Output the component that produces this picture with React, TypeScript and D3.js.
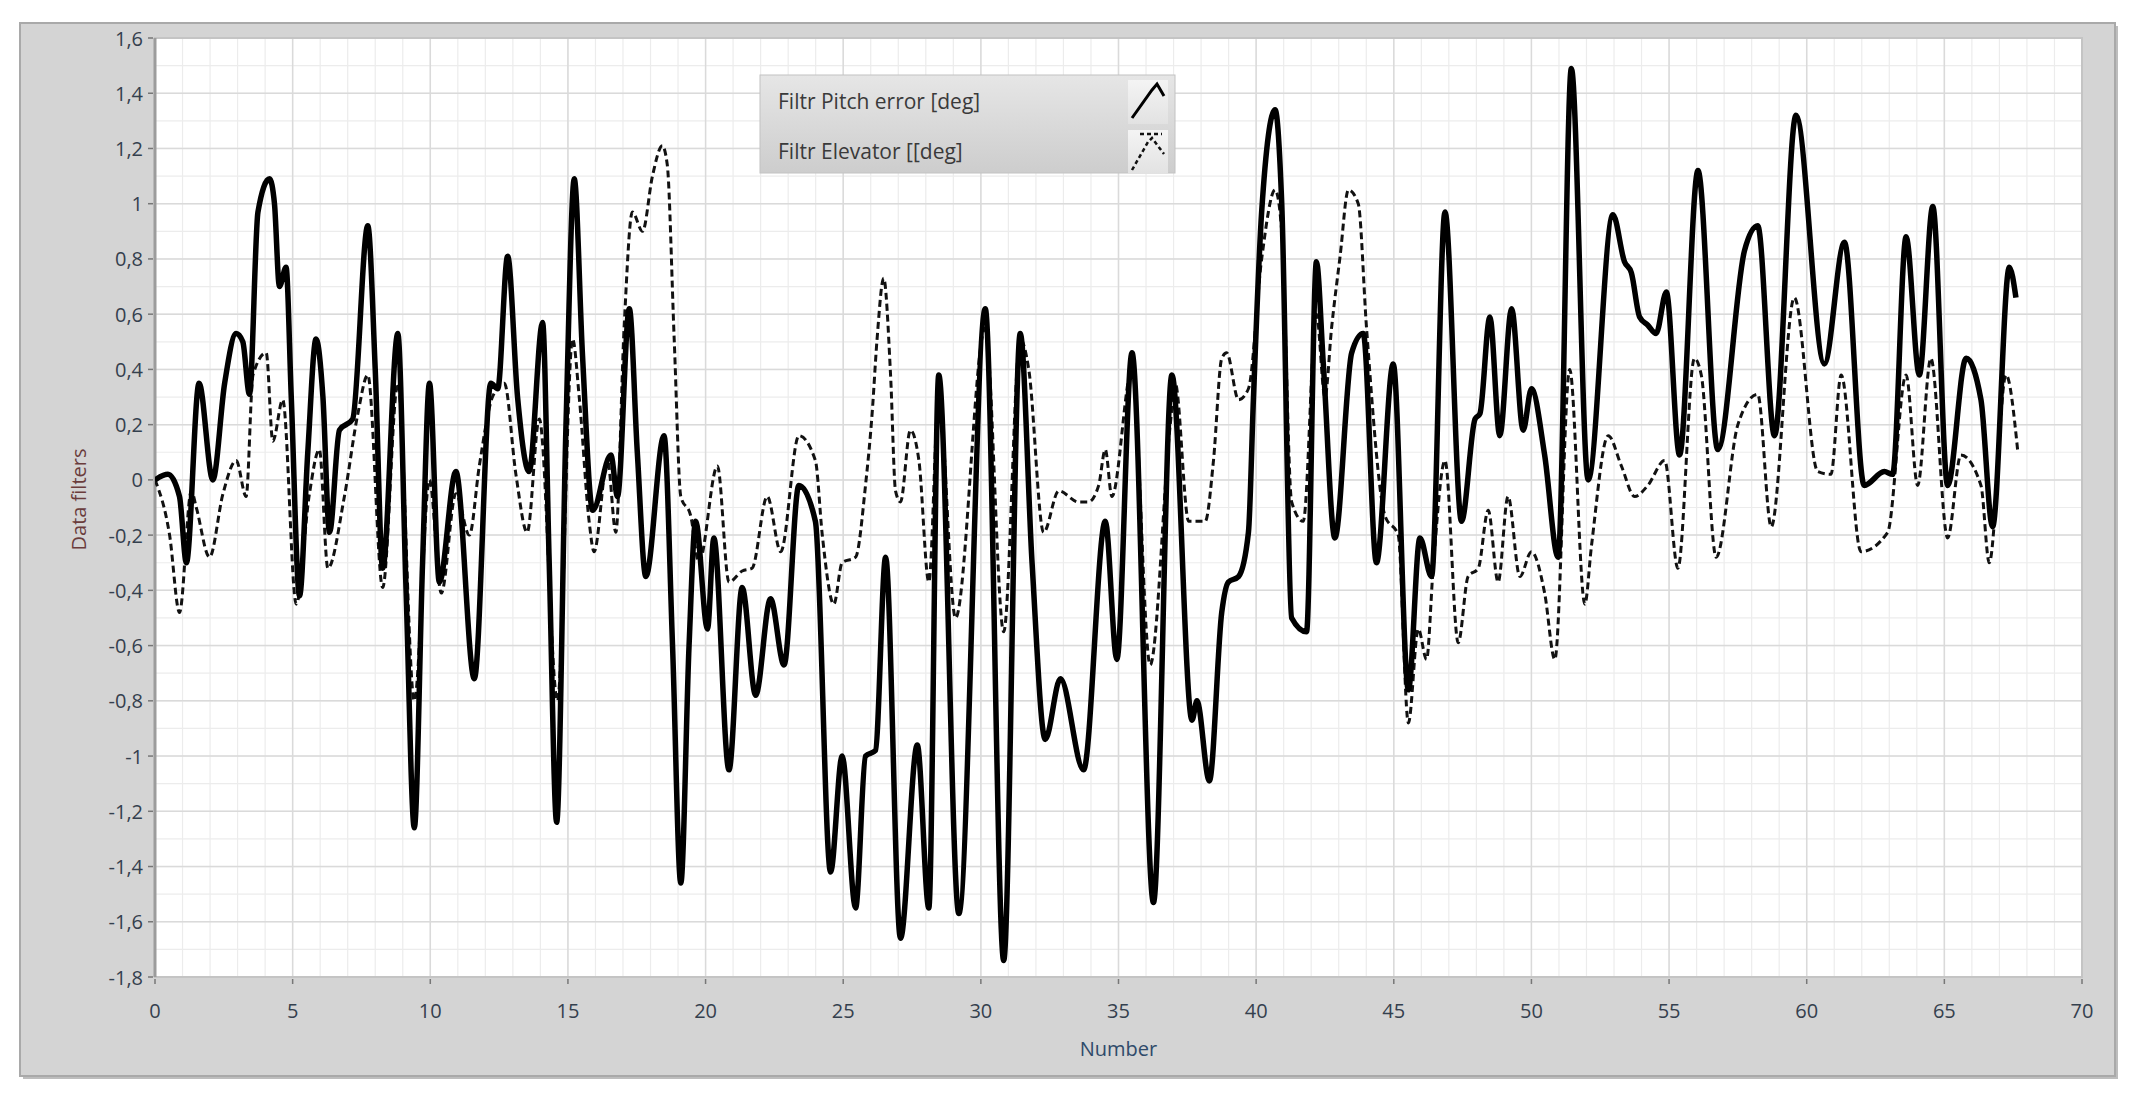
import React from "react";
import * as d3 from "d3";

// Filtr Pitch error [deg] (solid) : [Number, value]
const pitchErrorPoints: [number, number][] = [
  [0, 0.0], [0.47, 0.02], [0.89, -0.06], [1.14, -0.3], [1.6, 0.35], [2.1, 0.0], [2.53, 0.35],
  [2.95, 0.53], [3.19, 0.5], [3.43, 0.31], [3.74, 0.97], [4.16, 1.09], [4.34, 1.0], [4.52, 0.7],
  [4.76, 0.77], [4.95, 0.3], [5.25, -0.42], [5.55, 0.1], [5.85, 0.51], [6.1, 0.3], [6.34, -0.19],
  [6.7, 0.18], [7.18, 0.22], [7.73, 0.92], [8.0, 0.4], [8.27, -0.32], [8.82, 0.53], [9.12, -0.4],
  [9.42, -1.26], [9.72, -0.3], [9.97, 0.35], [10.33, -0.37], [10.93, 0.03], [11.6, -0.72],
  [12.2, 0.35], [12.45, 0.33], [12.81, 0.81], [13.17, 0.3], [13.59, 0.03], [14.08, 0.57],
  [14.32, -0.3], [14.59, -1.24], [14.93, 0.2], [15.23, 1.09], [15.53, 0.45], [15.9, -0.11],
  [16.56, 0.09], [16.8, -0.06], [17.23, 0.62], [17.52, 0.1], [17.83, -0.35], [18.49, 0.16],
  [18.8, -0.6], [19.1, -1.46], [19.4, -0.6], [19.64, -0.15], [20.07, -0.54], [20.3, -0.21],
  [20.85, -1.05], [21.33, -0.39], [21.82, -0.78], [22.36, -0.43], [22.85, -0.67], [23.39, -0.02],
  [23.99, -0.15], [24.54, -1.42], [24.96, -1.0], [25.45, -1.55], [25.81, -1.0], [26.17, -0.98],
  [26.54, -0.28], [27.08, -1.66], [27.69, -0.96], [28.11, -1.55], [28.47, 0.38], [29.2, -1.57],
  [30.16, 0.62], [30.83, -1.74], [31.43, 0.53], [31.86, -0.3], [32.34, -0.94], [32.89, -0.72],
  [33.73, -1.05], [34.52, -0.15], [34.94, -0.65], [35.49, 0.46], [36.27, -1.53], [36.94, 0.38],
  [37.67, -0.87], [37.85, -0.8], [38.3, -1.09], [38.75, -0.48], [38.99, -0.37], [39.36, -0.35],
  [39.72, -0.19], [39.9, 0.29], [40.2, 0.97], [40.69, 1.34], [40.93, 1.0], [41.29, -0.5],
  [41.83, -0.55], [42.19, 0.79], [42.44, 0.42], [42.86, -0.21], [43.47, 0.46], [43.89, 0.53],
  [44.37, -0.3], [44.98, 0.42], [45.53, -0.76], [45.95, -0.21], [46.37, -0.35], [46.86, 0.97],
  [47.46, -0.15], [47.95, 0.22], [48.13, 0.24], [48.49, 0.59], [48.85, 0.16], [49.28, 0.62],
  [49.7, 0.18], [50.0, 0.33], [50.48, 0.09], [50.97, -0.28], [51.45, 1.49], [52.06, 0.0],
  [52.96, 0.96], [53.38, 0.79], [53.63, 0.75], [53.93, 0.59], [54.23, 0.56], [54.53, 0.53],
  [54.9, 0.68], [55.38, 0.09], [56.05, 1.12], [56.77, 0.11], [57.74, 0.83], [58.22, 0.92],
  [58.83, 0.16], [59.61, 1.32], [60.64, 0.42], [61.37, 0.86], [62.09, -0.02], [62.82, 0.03],
  [63.12, 0.02], [63.61, 0.88], [64.09, 0.38], [64.58, 0.99], [65.12, -0.02], [65.79, 0.44],
  [66.33, 0.29], [66.75, -0.17], [67.36, 0.77], [67.6, 0.66],
];

// Filtr Elevator [[deg] (dashed) : [Number, value]
const elevatorPoints: [number, number][] = [
  [0, 0.0], [0.53, -0.2], [0.89, -0.48], [1.32, -0.04], [1.5, -0.1], [1.98, -0.28], [2.47, -0.05],
  [2.95, 0.07], [3.31, -0.06], [3.56, 0.38], [4.04, 0.46], [4.28, 0.14], [4.64, 0.29], [5.13, -0.45],
  [5.61, -0.05], [5.97, 0.11], [6.28, -0.32], [6.88, -0.06], [7.37, 0.24], [7.73, 0.38], [8.27, -0.39],
  [8.82, 0.35], [9.42, -0.8], [9.97, 0.0], [10.4, -0.41], [10.93, -0.05], [11.42, -0.2], [11.78, 0.05],
  [12.26, 0.3], [12.69, 0.35], [13.11, 0.02], [13.52, -0.19], [13.96, 0.22], [14.62, -0.8],
  [15.17, 0.51], [15.41, 0.3], [15.77, -0.15], [15.95, -0.26], [16.44, 0.07], [16.74, -0.19],
  [17.04, 0.55], [17.34, 0.97], [17.71, 0.9], [18.07, 1.1], [18.43, 1.21], [18.61, 1.14],
  [18.86, 0.51], [19.1, -0.06], [19.46, -0.13], [19.76, -0.3], [20.43, 0.05], [20.85, -0.37],
  [21.33, -0.33], [21.69, -0.32], [22.24, -0.06], [22.73, -0.26], [23.39, 0.16], [23.99, 0.07],
  [24.24, -0.2], [24.66, -0.45], [24.96, -0.3], [25.45, -0.28], [25.81, -0.02], [26.05, 0.24],
  [26.23, 0.51], [26.47, 0.73], [26.72, 0.38], [26.9, -0.04], [27.08, -0.08], [27.44, 0.18],
  [27.75, 0.07], [28.11, -0.37], [28.47, 0.3], [29.08, -0.5], [30.16, 0.55], [30.83, -0.55],
  [31.43, 0.51], [31.74, 0.4], [32.28, -0.19], [32.83, -0.04], [33.55, -0.08], [33.91, -0.08],
  [34.28, -0.02], [34.52, 0.11], [34.76, -0.06], [35.49, 0.4], [36.15, -0.67], [36.88, 0.2],
  [37.06, 0.35], [37.55, -0.15], [38.15, -0.15], [38.45, 0.07], [38.75, 0.44], [38.93, 0.46],
  [39.36, 0.29], [39.72, 0.33], [40.2, 0.8], [40.69, 1.05], [40.93, 0.9], [41.29, -0.08],
  [41.71, -0.15], [42.19, 0.6], [42.5, 0.3], [42.74, 0.55], [43.05, 0.81], [43.35, 1.05],
  [43.71, 1.0], [44.01, 0.55], [44.68, -0.13], [45.16, -0.2], [45.53, -0.88], [45.89, -0.54],
  [46.19, -0.65], [46.43, -0.32], [46.86, 0.07], [47.34, -0.59], [47.7, -0.35], [48.07, -0.32],
  [48.43, -0.11], [48.79, -0.37], [49.15, -0.06], [49.58, -0.35], [50.0, -0.26], [50.48, -0.41],
  [50.85, -0.65], [51.39, 0.4], [51.94, -0.45], [52.18, -0.24], [52.79, 0.16], [53.27, 0.05],
  [53.75, -0.06], [54.23, -0.02], [54.84, 0.07], [55.32, -0.32], [55.92, 0.44], [56.17, 0.38],
  [56.71, -0.28], [57.5, 0.2], [58.22, 0.31], [58.71, -0.17], [59.55, 0.66], [60.4, 0.03],
  [60.88, 0.02], [61.25, 0.38], [61.97, -0.26], [62.94, -0.19], [63.61, 0.38], [64.03, -0.02],
  [64.51, 0.44], [65.12, -0.21], [65.6, 0.09], [66.33, -0.02], [66.63, -0.3], [67.24, 0.38],
  [67.66, 0.11],
];

const seriesNames = ["Filtr Pitch error [deg]", "Filtr Elevator [[deg]"];
const xTickValues = d3.range(0, 71, 5);
const yTickValues = d3.range(-9, 9).map((i) => i / 5);
const xAxisTitle = "Number";
const yAxisTitle = "Data filters";

const fmt = (v: number) => String(+v.toFixed(1)).replace(".", ",");

export default function App() {
  const width = 2135;
  const height = 1102;
  const plot = { left: 155, right: 2082, top: 38, bottom: 977 };
  const font = "'Open Sans', 'Noto Sans', sans-serif";

  const x = d3.scaleLinear().domain([0, 70]).range([plot.left, plot.right]);
  const y = d3.scaleLinear().domain([-1.8, 1.6]).range([plot.bottom, plot.top]);

  const lineGen = d3
    .line<[number, number]>()
    .x((d) => x(d[0]))
    .y((d) => y(d[1]))
    .curve(d3.curveMonotoneX);

  const minorX = d3.range(0, 71, 1);
  const minorY = d3.range(-18, 17).map((i) => i / 10);

  return (
    <svg
      width={width}
      height={height}
      style={{ position: "absolute", left: 0, top: 0, background: "#fff" }}
    >
      <defs>
        <linearGradient id="legendBg" x1="0" y1="0" x2="0" y2="1">
          <stop offset="0%" stopColor="#e6e6e6" />
          <stop offset="100%" stopColor="#cdcdcd" />
        </linearGradient>
        <linearGradient id="iconBg" x1="0" y1="0" x2="0" y2="1">
          <stop offset="0%" stopColor="#f4f4f4" />
          <stop offset="100%" stopColor="#e2e2e2" />
        </linearGradient>
        <clipPath id="plotClip">
          <rect x={plot.left} y={plot.top} width={plot.right - plot.left} height={plot.bottom - plot.top} />
        </clipPath>
      </defs>

      {/* panel */}
      <rect x={23} y={26} width={2095} height={1053} fill="#bdbdbd" />
      <rect x={20} y={23} width={2095} height={1053} fill="#d4d4d4" stroke="#a9a9a9" strokeWidth={2} />

      {/* plot area */}
      <rect x={plot.left} y={plot.top} width={plot.right - plot.left} height={plot.bottom - plot.top} fill="#ffffff" />
      <g>
        {minorX.map((v) => (
          <line key={"mx" + v} x1={x(v)} x2={x(v)} y1={plot.top} y2={plot.bottom} stroke="#ececec" strokeWidth={1.2} />
        ))}
        {minorY.map((v) => (
          <line key={"my" + v} x1={plot.left} x2={plot.right} y1={y(v)} y2={y(v)} stroke="#ececec" strokeWidth={1.2} />
        ))}
        {xTickValues.map((v) => (
          <line key={"gx" + v} x1={x(v)} x2={x(v)} y1={plot.top} y2={plot.bottom} stroke="#dadada" strokeWidth={1.5} />
        ))}
        {yTickValues.map((v) => (
          <line key={"gy" + v} x1={plot.left} x2={plot.right} y1={y(v)} y2={y(v)} stroke="#dadada" strokeWidth={1.5} />
        ))}
      </g>
      <rect
        x={plot.left}
        y={plot.top}
        width={plot.right - plot.left}
        height={plot.bottom - plot.top}
        fill="none"
        stroke="#c4c4c4"
        strokeWidth={2}
      />
      <line x1={plot.left} x2={plot.left} y1={plot.top} y2={plot.bottom} stroke="#9c9c9c" strokeWidth={3} />

      {/* data */}
      <g clipPath="url(#plotClip)">
        <path
          d={lineGen(elevatorPoints) ?? ""}
          fill="none"
          stroke="#111"
          strokeWidth={3}
          strokeDasharray="7,4"
          strokeLinejoin="round"
        />
        <path
          d={lineGen(pitchErrorPoints) ?? ""}
          fill="none"
          stroke="#000"
          strokeWidth={5.5}
          strokeLinejoin="round"
        />
      </g>

      {/* y axis */}
      {yTickValues.map((v) => (
        <g key={"yt" + v}>
          <line x1={plot.left - 7} x2={plot.left - 2} y1={y(v)} y2={y(v)} stroke="#777" strokeWidth={1.5} />
          <text
            x={plot.left - 12}
            y={y(v)}
            textAnchor="end"
            dominantBaseline="central"
            fontFamily={font}
            fontSize={20}
            fill="#34404e"
          >
            {fmt(v)}
          </text>
        </g>
      ))}
      <text
        transform={`translate(78, ${(plot.top + plot.bottom) / 2 - 8}) rotate(-90)`}
        textAnchor="middle"
        dominantBaseline="central"
        fontFamily={font}
        fontSize={20}
        fill="#6a3c3c"
      >
        {yAxisTitle}
      </text>

      {/* x axis */}
      {xTickValues.map((v) => (
        <g key={"xt" + v}>
          <line x1={x(v)} x2={x(v)} y1={plot.bottom + 2} y2={plot.bottom + 7} stroke="#777" strokeWidth={1.5} />
          <text
            x={x(v)}
            y={1010}
            textAnchor="middle"
            dominantBaseline="central"
            fontFamily={font}
            fontSize={20}
            fill="#34404e"
          >
            {fmt(v)}
          </text>
        </g>
      ))}
      <text
        x={(plot.left + plot.right) / 2}
        y={1048}
        textAnchor="middle"
        dominantBaseline="central"
        fontFamily={font}
        fontSize={20}
        fill="#2f4a6a"
      >
        {xAxisTitle}
      </text>

      {/* legend */}
      <g>
        <rect x={760} y={75} width={415} height={98} fill="url(#legendBg)" stroke="#c2c2c2" strokeWidth={1} />
        {seriesNames.map((name, i) => (
          <g key={name} transform={`translate(0, ${i * 50})`}>
            <text x={778} y={101} dominantBaseline="central" fontFamily={font} fontSize={21} fill="#3a3a3a">
              {name}
            </text>
            <rect x={1128} y={80} width={40} height={44} fill="url(#iconBg)" />
            {i === 0 ? (
              <path d="M1132,118 L1152,90 L1157,84 L1164,96" fill="none" stroke="#000" strokeWidth={3} />
            ) : (
              <path
                d="M1132,120 L1148,92 L1152,88 L1164,104 M1140,84 L1162,84"
                fill="none"
                stroke="#111"
                strokeWidth={2.5}
                strokeDasharray="4,3"
              />
            )}
          </g>
        ))}
      </g>
    </svg>
  );
}
